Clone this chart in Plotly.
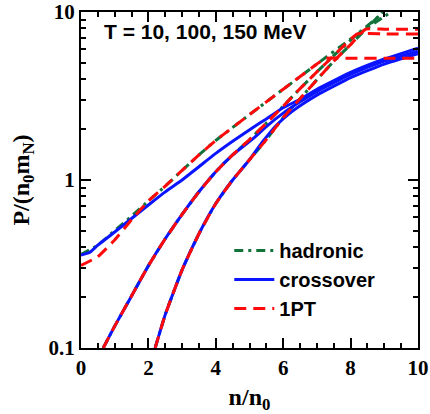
import plotly.graph_objects as go

# ---- data ----
# T = 150 MeV
n_had_150 = [0, 0.5, 1, 1.5, 2, 2.5, 3, 3.5, 4, 5, 6, 7, 8, 9, 9.2]
p_had_150 = [0.36, 0.41, 0.50, 0.61, 0.75, 0.92, 1.14, 1.41, 1.72, 2.45, 3.47, 4.9, 6.9, 9.4, 10.0]
n_cro_150 = [0, 0.25, 0.5, 1, 1.5, 2, 2.5, 3, 3.5, 4, 4.5, 5.16, 5.5, 6, 6.5, 7, 8, 9, 10]
p_cro_150 = [0.358, 0.37, 0.41, 0.49, 0.59, 0.71, 0.85, 1.0, 1.2, 1.44, 1.7, 2.09, 2.31, 2.69, 3.02, 3.47, 4.37, 5.25, 6.1]
n_1pt_150 = [0, 0.5, 1, 1.5, 2, 2.5, 3, 3.5, 4, 5, 6, 7, 7.25, 8, 9, 10]
p_1pt_150 = [0.31, 0.35, 0.44, 0.58, 0.75, 0.92, 1.14, 1.41, 1.72, 2.45, 3.47, 4.9, 5.3, 5.3, 5.3, 5.3]

# T = 100 MeV
n_had_100 = [0.66, 1, 1.5, 2, 2.5, 3, 3.5, 4, 4.5, 5, 5.5, 6, 6.5, 7, 7.5, 8.2, 8.6, 9.0]
p_had_100 = [0.1, 0.135, 0.204, 0.309, 0.447, 0.624, 0.851, 1.12, 1.41, 1.74, 2.18, 2.75, 3.5, 4.4, 5.5, 7.4, 8.6, 10.0]
n_cro_100 = [0.66, 1, 1.5, 2, 2.5, 3, 3.5, 4, 4.5, 5.16, 5.5, 6, 6.5, 7, 8, 9, 10]
p_cro_100 = [0.1, 0.135, 0.204, 0.309, 0.447, 0.624, 0.851, 1.12, 1.41, 1.80, 2.08, 2.5, 2.92, 3.36, 4.25, 5.1, 5.85]
n_1pt_100 = [0.66, 1, 1.5, 2, 2.5, 3, 3.5, 4, 4.5, 5, 5.5, 6, 6.5, 7, 7.5, 8.2, 9, 10]
p_1pt_100 = [0.1, 0.135, 0.204, 0.309, 0.447, 0.624, 0.851, 1.12, 1.41, 1.74, 2.18, 2.75, 3.5, 4.4, 5.5, 7.4, 7.4, 7.4]

# T = 10 MeV
n_had_10 = [2.2, 2.5, 3, 3.5, 4, 4.5, 5, 5.5, 6, 6.5, 7, 7.5, 8, 8.45, 8.95]
p_had_10 = [0.1, 0.158, 0.292, 0.479, 0.724, 1.0, 1.32, 1.74, 2.35, 3.05, 3.95, 5.1, 6.4, 7.9, 10.0]
n_cro_10 = [2.2, 2.5, 3, 3.5, 4, 4.5, 5, 5.4, 5.8, 6.2, 6.6, 7, 8, 9, 10]
p_cro_10 = [0.1, 0.158, 0.292, 0.479, 0.724, 1.0, 1.32, 1.70, 2.12, 2.5, 2.85, 3.2, 4.07, 4.9, 5.65]
n_1pt_10 = [2.2, 2.5, 3, 3.5, 4, 4.5, 5, 5.5, 6, 6.5, 7, 7.5, 8, 8.45, 9, 10]
p_1pt_10 = [0.1, 0.158, 0.292, 0.479, 0.724, 1.0, 1.32, 1.74, 2.35, 3.05, 3.95, 5.1, 6.4, 7.9, 7.9, 7.9]

x_ticks = [0, 2, 4, 6, 8, 10]
y_ticks = [0.1, 1, 10]
y_tick_text = ["0.1", "1", "10"]
series_names = ["hadronic", "crossover", "1PT"]

GREEN = "#11733a"
BLUE = "#0a14ff"
RED = "#ff0a0a"
SERIF = "Liberation Serif"
SANS = "Liberation Sans"

fig = go.Figure()

had = [(n_had_150, p_had_150), (n_had_100, p_had_100), (n_had_10, p_had_10)]
cro = [(n_cro_150, p_cro_150), (n_cro_100, p_cro_100), (n_cro_10, p_cro_10)]
pt1 = [(n_1pt_150, p_1pt_150), (n_1pt_100, p_1pt_100), (n_1pt_10, p_1pt_10)]

styles = [
    (had, GREEN, "9px,5px,3px,5px", series_names[0]),
    (cro, BLUE, "solid", series_names[1]),
    (pt1, RED, "12px,7px", series_names[2]),
]
for group, color, dash, name in styles:
    for i, (xs, ys) in enumerate(group):
        fig.add_trace(go.Scatter(
            x=xs, y=ys, mode="lines", name=name, legendgroup=name,
            showlegend=(i == 0),
            line=dict(color=color, width=3, dash=dash, shape="spline", smoothing=0.4),
        ))

fig.update_layout(
    width=430, height=414,
    margin=dict(l=81, r=12, t=12, b=66),
    plot_bgcolor="white", paper_bgcolor="white",
    showlegend=True,
    legend=dict(
        x=0.44, y=0.348, xanchor="left", yanchor="top",
        bgcolor="rgba(0,0,0,0)",
        font=dict(family=SANS, size=20, color="black", weight="bold"),
        itemwidth=40, tracegroupgap=0,
    ),
    annotations=[dict(
        text="T = 10, 100, 150 MeV", x=0.062, y=0.942, xref="paper", yref="paper",
        xanchor="left", yanchor="middle", showarrow=False,
        font=dict(family=SANS, size=21, color="black", weight="bold"),
    )],
)

fig.update_xaxes(
    range=[0, 10], tickvals=x_ticks, automargin=False, ticklabeloverflow="allow",
    showline=True, linecolor="black", linewidth=2, mirror="allticks",
    ticks="inside", ticklen=10, tickwidth=1.5, tickcolor="black",
    minor=dict(dtick=0.5, ticks="inside", ticklen=5, tickwidth=1.5, tickcolor="black"),
    showgrid=False, zeroline=False,
    tickfont=dict(family=SERIF, size=21, color="black", weight="bold"),
    title=dict(text="n/n<sub>0</sub>", standoff=9,
               font=dict(family=SERIF, size=24, color="black", weight="bold")),
)
fig.update_yaxes(
    type="log", range=[-1, 1], tickvals=y_ticks, ticktext=y_tick_text, automargin=False,
    ticklabeloverflow="allow",
    showline=True, linecolor="black", linewidth=2, mirror="allticks",
    ticks="inside", ticklen=10, tickwidth=1.5, tickcolor="black",
    minor=dict(dtick="D1", ticks="inside", ticklen=5, tickwidth=1.5, tickcolor="black"),
    showgrid=False, zeroline=False,
    tickfont=dict(family=SERIF, size=21, color="black", weight="bold"),
    title=dict(text="P/(n<sub>0</sub>m<sub>N</sub>)", standoff=12,
               font=dict(family=SERIF, size=24, color="black", weight="bold")),
)

# remove the default 8px page margin so the figure fills the window
fig.write_html("out.html", config={"displayModeBar": False},
               post_script="document.body.style.margin='0px';")
